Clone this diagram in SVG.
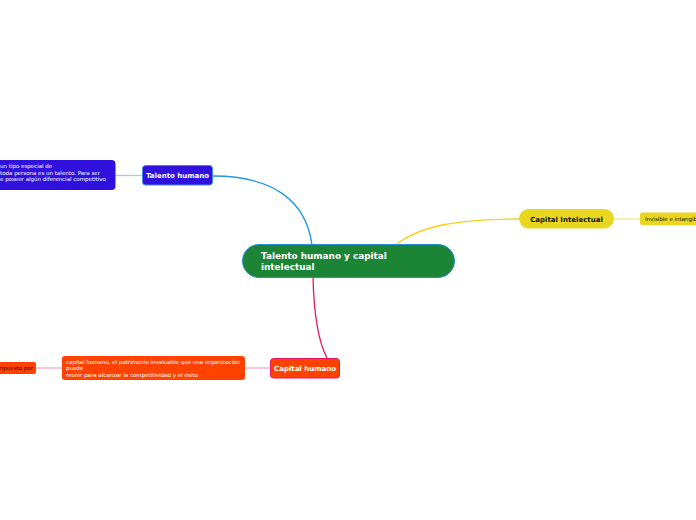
<svg xmlns="http://www.w3.org/2000/svg" width="696" height="520" viewBox="0 0 696 520">
<style>
.t{font-family:"DejaVu Sans","Verdana",sans-serif}
.b{font-weight:bold}
.s{font-size:5.5px}
.w{fill:#ffffff}
.k{fill:#111111}
.c{fill:none;stroke-width:1.3}
</style>
<rect width="696" height="520" fill="#ffffff"/>
<g id="connectors">
<path class="c" d="M312,245 C306,200 272,176 213,176" stroke="#2196e3"/>
<path class="c" d="M142,175.5 L115,175.5" stroke="#9ecbf0" stroke-width="0.9"/>
<path class="c" d="M397,244 C420,226 458,219 519,219" stroke="#f3d11c"/>
<path class="c" d="M614,219 L640,219" stroke="#f3e58c" stroke-width="0.9"/>
<path class="c" d="M313,277 C314,318 319,343 327,358" stroke="#e3166a"/>
<path class="c" d="M270,368 L245,368" stroke="#f6a6c4" stroke-width="0.9"/>
<path class="c" d="M62,368 L36,368" stroke="#f6a6c4" stroke-width="0.9"/>
</g>
<g id="central">
<rect x="242.5" y="244.5" width="212" height="33" rx="16.5" fill="#1b8535" stroke="#2a8ed8" stroke-width="1"/>
<text class="t b w" x="261" y="259" font-size="8.9">Talento humano y capital</text>
<text class="t b w" x="261" y="270" font-size="8.9">intelectual</text>
</g>
<g id="talento-humano">
<rect x="142.5" y="165.5" width="70" height="19.5" rx="3" fill="#3010dd" stroke="#3f8be8" stroke-width="1"/>
<text class="t b w" x="177.5" y="178" font-size="7" text-anchor="middle">Talento humano</text>
</g>
<g id="talento-detalle">
<rect x="-10" y="160" width="125.5" height="30" rx="4" fill="#3010dd"/>
<text class="t s w" x="0" y="168">un  tipo especial de</text>
<text class="t s w" x="0" y="175"> toda persona es un talento. Para ser</text>
<text class="t s w" x="0" y="181">e poseer algún diferencial competitivo</text>
</g>
<g id="capital-intelectual">
<rect x="519" y="209" width="95" height="19.5" rx="9.75" fill="#e8d71e"/>
<text class="t b k" x="566.5" y="221.5" font-size="7" text-anchor="middle">Capital Intelectual</text>
</g>
<g id="invisible">
<rect x="640" y="212.5" width="70" height="12.5" rx="2" fill="#e8d71e"/>
<text class="t s k" x="645" y="220.8">Invisible e intangible</text>
</g>
<g id="capital-humano">
<rect x="270.5" y="358.5" width="69" height="19.5" rx="3" fill="#ff4200" stroke="#e3166a" stroke-width="1"/>
<text class="t b w" x="305" y="371" font-size="7" text-anchor="middle">Capital humano</text>
</g>
<g id="capital-humano-detalle">
<rect x="62" y="356" width="183" height="24" rx="3" fill="#ff4200"/>
<text class="t s w" x="66" y="364">capital humano, el patrimonio invaluable que una organización</text>
<text class="t s w" x="66" y="370">puede</text>
<text class="t s w" x="66" y="377">reunir para alcanzar la competitividad y el éxito</text>
</g>
<g id="compuesto">
<rect x="-6" y="362" width="42" height="12" rx="2" fill="#ff4200"/>
<text class="t s k" x="-2" y="370">mpuesto por</text>
</g>
</svg>
